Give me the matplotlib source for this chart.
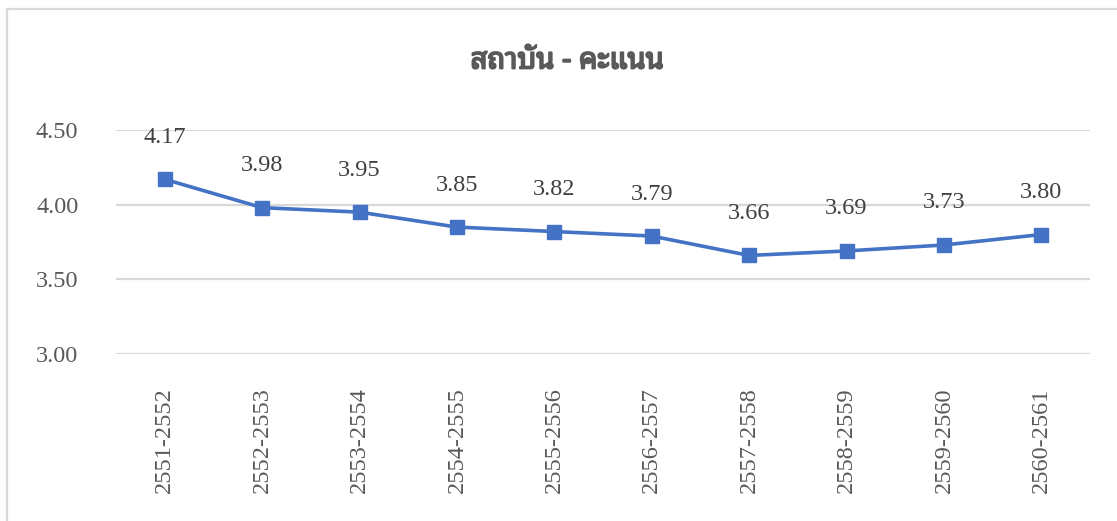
import numpy as np
import matplotlib.pyplot as plt
import matplotlib.patheffects as pe
from matplotlib import font_manager as fm
from matplotlib.lines import Line2D

years = ["2551-2552", "2552-2553", "2553-2554", "2554-2555", "2555-2556",
         "2556-2557", "2557-2558", "2558-2559", "2559-2560", "2560-2561"]
scores = [4.17, 3.98, 3.95, 3.85, 3.82, 3.79, 3.66, 3.69, 3.73, 3.80]
yticks = [3.00, 3.50, 4.00, 4.50]
title = "สถาบัน - คะแนน"

installed = {f.name for f in fm.fontManager.ttflist}


def first_installed(candidates, default):
    for n in candidates:
        if n in installed:
            return n
    return default


thai = first_installed(["Noto Sans Thai Looped", "Noto Sans Thai", "Sarabun",
                        "IBM Plex Sans Thai Looped", "Bai Jamjuree"], "DejaVu Sans")
serif = first_installed(["Liberation Serif", "Tinos", "DejaVu Serif"], "serif")

plt.rcParams["font.family"] = [serif, "DejaVu Serif"]
text_color = "#595959"
grid_color = "#D9D9D9"
line_color = "#4472C4"

fig = plt.figure(figsize=(11.17, 5.21), dpi=100)
ax = fig.add_axes([116 / 1117, 1 - 354 / 521, (1090 - 116) / 1117, (354 - 130) / 521])

x = np.arange(len(years))
ax.plot(x, scores, color=line_color, lw=2.6, marker="s", markersize=10,
        markerfacecolor=line_color, markeredgecolor=line_color, zorder=3)

for xi, v in zip(x, scores):
    ax.annotate(f"{v:.2f}", (xi, v), xytext=(0, 42), textcoords="offset pixels",
                ha="center", va="center", fontsize=17.5, color="#404040")

ax.set_xlim(-0.5, len(years) - 0.5)
ax.set_ylim(3.0, 4.5)
ax.set_yticks(yticks)
ax.set_yticklabels([f"{t:.2f}" for t in yticks])
ax.set_xticks(x)
ax.set_xticklabels(years, rotation=90)
ax.tick_params(axis="both", length=0, labelsize=17.5, labelcolor=text_color)
ax.tick_params(axis="y", pad=27)
ax.tick_params(axis="x", pad=24)
ax.grid(axis="y", color=grid_color, lw=1.6)
ax.set_axisbelow(True)
for s in ax.spines.values():
    s.set_visible(False)

# the looped Thai face has no bold cut here, so thicken it with a stroke
fig.text(567 / 1117, 1 - 61 / 521, title, ha="center", va="center",
         fontsize=21, fontweight="bold", color=text_color, family=[thai, "DejaVu Sans"],
         path_effects=[pe.withStroke(linewidth=1.3, foreground=text_color)])

# chart border (cropped at right and bottom)
fig.add_artist(Line2D([6.5 / 1117, 1.0], [1 - 8.5 / 521, 1 - 8.5 / 521],
                      transform=fig.transFigure, color=grid_color, lw=1.6))
fig.add_artist(Line2D([6.5 / 1117, 6.5 / 1117], [0.0, 1 - 8.5 / 521],
                      transform=fig.transFigure, color=grid_color, lw=1.6))

fig.savefig("out.png", dpi=100)
